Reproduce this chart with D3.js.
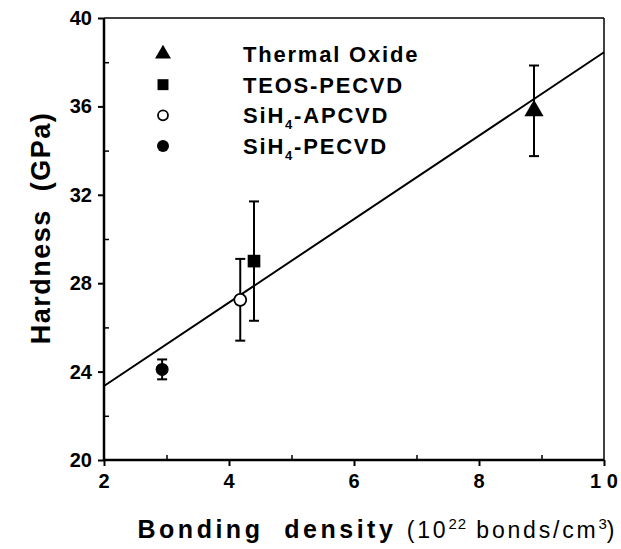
<!DOCTYPE html>
<html>
<head>
<meta charset="utf-8">
<script src="https://cdn.jsdelivr.net/npm/d3@7"></script>
<style>
  body { margin: 0; background: #fff; }
  text { font-family: "Liberation Sans", Arial, sans-serif; fill: #000; }
</style>
</head>
<body>
<div id="vis"></div>
<script>
// data
var names   = ["Thermal Oxide", "TEOS-PECVD", "SiH4-APCVD", "SiH4-PECVD"];
var symbols = ["triangle", "square", "openCircle", "circle"];
var density = [8.88, 4.4, 4.18, 2.93];
var hardness = [35.8, 29.0, 27.25, 24.1];
var errors  = [2.05, 2.7, 1.85, 0.45];

// least squares line drawn in the figure
var fitX = [2, 10];
var fitY = [23.35, 38.45];

var xTicks = [2, 4, 6, 8, 10];
var yTicks = [20, 24, 28, 32, 36, 40];

var width = 621, height = 549;
var margin = {top: 18, right: 17, bottom: 89, left: 104};

var svg = d3.select("#vis").append("svg")
  .attr("width", width)
  .attr("height", height);

var x = d3.scaleLinear().domain([2, 10]).range([margin.left, width - margin.right]);
var y = d3.scaleLinear().domain([20, 40]).range([height - margin.bottom, margin.top]);

// frame: top and right thinner than the two axes
svg.append("line").attr("x1", x(2)).attr("x2", x(10)).attr("y1", y(40)).attr("y2", y(40))
  .attr("stroke", "#000").attr("stroke-width", 1.5);
svg.append("line").attr("x1", x(10)).attr("x2", x(10)).attr("y1", y(40)).attr("y2", y(20))
  .attr("stroke", "#000").attr("stroke-width", 1.5);
svg.append("line").attr("x1", x(2)).attr("x2", x(10)).attr("y1", y(20)).attr("y2", y(20))
  .attr("stroke", "#000").attr("stroke-width", 2.5);
svg.append("line").attr("x1", x(2)).attr("x2", x(2)).attr("y1", y(40)).attr("y2", y(20))
  .attr("stroke", "#000").attr("stroke-width", 2.5);

// major ticks outward, minor ticks inward
var xAxis = d3.axisBottom(x).tickValues(xTicks).tickSize(6).tickFormat("");
svg.append("g").attr("transform", "translate(0," + y(20) + ")").call(xAxis)
  .call(g => g.select(".domain").remove())
  .selectAll("line").attr("stroke-width", 2);
svg.append("g").attr("transform", "translate(0," + y(20) + ")")
  .call(d3.axisTop(x).tickValues([3, 5, 7, 9]).tickSize(5).tickFormat(""))
  .call(g => g.select(".domain").remove())
  .selectAll("line").attr("stroke-width", 1.5);

var yAxis = d3.axisLeft(y).tickValues(yTicks).tickSize(6).tickFormat("");
svg.append("g").attr("transform", "translate(" + x(2) + ",0)").call(yAxis)
  .call(g => g.select(".domain").remove())
  .selectAll("line").attr("stroke-width", 2);
svg.append("g").attr("transform", "translate(" + x(2) + ",0)")
  .call(d3.axisRight(y).tickValues([22, 26, 30, 34, 38]).tickSize(5).tickFormat(""))
  .call(g => g.select(".domain").remove())
  .selectAll("line").attr("stroke-width", 1.5);

// tick labels
svg.selectAll(".xlab").data(xTicks).enter().append("text")
  .attr("x", d => x(d)).attr("y", y(20) + 28)
  .attr("text-anchor", "middle")
  .style("font-size", "20px").style("font-weight", "bold")
  .text(d => d == 10 ? "1 0" : d);

svg.selectAll(".ylab").data(yTicks).enter().append("text")
  .attr("x", x(2) - 12).attr("y", d => y(d) + 7)
  .attr("text-anchor", "end")
  .style("font-size", "20px").style("font-weight", "bold")
  .text(d => d);

// axis titles
svg.append("text")
  .attr("transform", "translate(50,228) rotate(-90)")
  .attr("text-anchor", "middle")
  .style("font-size", "27px").style("font-weight", "bold").style("letter-spacing", "1.5px")
  .text("Hardness\u00a0\u00a0(GPa)");

var xt = svg.append("text")
  .attr("x", 376).attr("y", 538)
  .attr("text-anchor", "middle");
xt.append("tspan").style("font-size", "25px").style("font-weight", "bold").style("letter-spacing", "3.5px")
  .text("Bonding\u00a0\u00a0density ");
xt.append("tspan").style("font-size", "23px").style("letter-spacing", "2.8px").text("(10");
xt.append("tspan").style("font-size", "15px").style("letter-spacing", "1px").attr("dy", -9).text("22");
xt.append("tspan").style("font-size", "23px").style("letter-spacing", "2.8px").attr("dy", 9).text(" bonds/cm");
xt.append("tspan").style("font-size", "15px").attr("dy", -9).text("3");
xt.append("tspan").style("font-size", "23px").attr("dy", 9).text(")");

// fit line
svg.append("line")
  .attr("x1", x(fitX[0])).attr("y1", y(fitY[0]))
  .attr("x2", x(fitX[1])).attr("y2", y(fitY[1]))
  .attr("stroke", "#000").attr("stroke-width", 2);

// error bars
var pts = names.map((n, i) => ({name: n, sym: symbols[i], x: density[i], y: hardness[i], e: errors[i]}));
var eb = svg.append("g").selectAll("g").data(pts).enter().append("g");
eb.append("line")
  .attr("x1", d => x(d.x)).attr("x2", d => x(d.x))
  .attr("y1", d => y(d.y + d.e)).attr("y2", d => y(d.y - d.e))
  .attr("stroke", "#000").attr("stroke-width", 2);
eb.append("line")
  .attr("x1", d => x(d.x) - 5).attr("x2", d => x(d.x) + 5)
  .attr("y1", d => y(d.y + d.e)).attr("y2", d => y(d.y + d.e))
  .attr("stroke", "#000").attr("stroke-width", 2);
eb.append("line")
  .attr("x1", d => x(d.x) - 5).attr("x2", d => x(d.x) + 5)
  .attr("y1", d => y(d.y - d.e)).attr("y2", d => y(d.y - d.e))
  .attr("stroke", "#000").attr("stroke-width", 2);

function drawSymbol(g, sym, cx, cy, big) {
  if (sym == "triangle") {
    g.append("path").attr("d", d3.symbol(d3.symbolTriangle, big ? 160 : 110)())
      .attr("transform", "translate(" + cx + "," + cy + ")").attr("fill", "#000");
  } else if (sym == "square") {
    g.append("path").attr("d", d3.symbol(d3.symbolSquare, big ? 160 : 120)())
      .attr("transform", "translate(" + cx + "," + cy + ")").attr("fill", "#000");
  } else if (sym == "openCircle") {
    g.append("circle").attr("cx", cx).attr("cy", cy).attr("r", big ? 6 : 5)
      .attr("fill", "#fff").attr("stroke", "#000").attr("stroke-width", 1.8);
  } else {
    g.append("circle").attr("cx", cx).attr("cy", cy).attr("r", big ? 6.5 : 6)
      .attr("fill", "#000");
  }
}

var marks = svg.append("g");
pts.forEach(d => drawSymbol(marks, d.sym, x(d.x), y(d.y), true));

// legend
var legY = d3.scaleLinear().domain([0, 3]).range([54, 146]);
var leg = svg.append("g");
pts.forEach((d, i) => {
  drawSymbol(leg, d.sym, 163, legY(i), false);
  var t = leg.append("text").attr("x", 243).attr("y", legY(i) + 8)
    .style("font-size", "22px").style("font-weight", "bold").style("letter-spacing", "1.8px");
  if (d.name.indexOf("SiH4") == 0) {
    t.append("tspan").text("SiH");
    t.append("tspan").attr("dy", 6).style("font-size", "13px").text("4");
    t.append("tspan").attr("dy", -6).text(d.name.slice(4));
  } else {
    t.text(d.name);
  }
});
</script>
</body>
</html>
